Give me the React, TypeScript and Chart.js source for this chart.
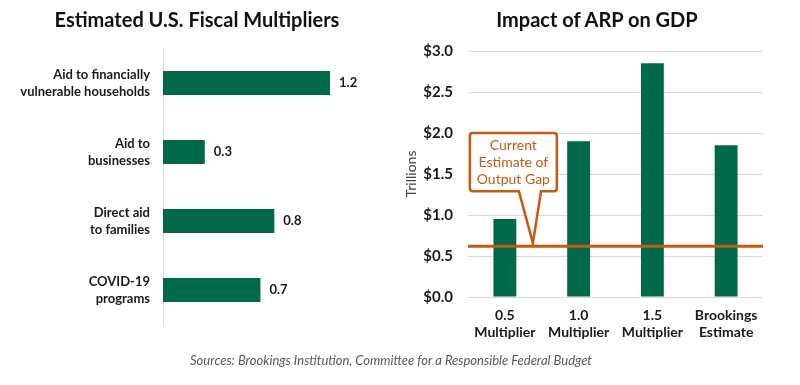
import React, { useEffect, useRef } from 'react';
import { Chart, registerables } from 'chart.js';

Chart.register(...registerables);

const programCategories = [
  ['Aid to financially', 'vulnerable households'],
  ['Aid to', 'businesses'],
  ['Direct aid', 'to families'],
  ['COVID-19', 'programs'],
];
const multiplierValues = [1.2, 0.3, 0.8, 0.7];

const scenarioCategories = [
  ['0.5', 'Multiplier'],
  ['1.0', 'Multiplier'],
  ['1.5', 'Multiplier'],
  ['Brookings', 'Estimate'],
];
const gdpImpactValues = [0.95, 1.9, 2.85, 1.85];
const outputGap = 0.62;
const calloutLines = ['Current', 'Estimate of', 'Output Gap'];

const FONT = 'Lato';
const GREEN = '#00694A';
const ORANGE = '#C55A11';
const TEXT = '#1a1a1a';

export default function App() {
  const leftRef = useRef<HTMLCanvasElement>(null);
  const rightRef = useRef<HTMLCanvasElement>(null);

  useEffect(() => {
    const valueLabels = {
      id: 'valueLabels',
      afterDatasetsDraw(chart: any) {
        const ctx = chart.ctx;
        const meta = chart.getDatasetMeta(0);
        ctx.save();
        ctx.font = `bold 13px ${FONT}`;
        ctx.fillStyle = TEXT;
        ctx.textAlign = 'left';
        ctx.textBaseline = 'middle';
        meta.data.forEach((bar: any, i: number) => {
          ctx.fillText(multiplierValues[i].toFixed(1), bar.x + 9, bar.y);
        });
        ctx.restore();
      },
    };

    const left = new Chart(leftRef.current!, {
      type: 'bar',
      data: {
        labels: programCategories as any,
        datasets: [
          {
            data: multiplierValues,
            backgroundColor: GREEN,
            barPercentage: 0.35,
            categoryPercentage: 1,
          },
        ],
      },
      options: {
        indexAxis: 'y',
        animation: false,
        responsive: false,
        layout: { padding: { top: 48.5, bottom: 60.5, right: 28.25, left: 0 } },
        plugins: { legend: { display: false }, tooltip: { enabled: false } },
        scales: {
          x: { display: false, min: 0, max: 1.5 },
          y: {
            grid: { display: false, drawTicks: false },
            border: { display: true, color: '#d9d9d9' },
            ticks: {
              padding: 13,
              color: TEXT,
              font: { family: FONT, size: 13, weight: 'bold', lineHeight: 1.28 },
            },
            afterFit(scale: any) {
              scale.width = 163;
            },
          },
        },
      },
      plugins: [valueLabels],
    });

    const gapAndCallout = {
      id: 'gapAndCallout',
      afterDatasetsDraw(chart: any) {
        const ctx = chart.ctx;
        const xs = chart.scales.x;
        const ys = chart.scales.y;
        const area = chart.chartArea;
        const yGap = ys.getPixelForValue(outputGap);
        ctx.save();
        ctx.strokeStyle = ORANGE;
        ctx.lineWidth = 3;
        ctx.beginPath();
        ctx.moveTo(area.left, yGap);
        ctx.lineTo(area.right, yGap);
        ctx.stroke();

        const step = xs.getPixelForValue(1) - xs.getPixelForValue(0);
        const x0 = xs.getPixelForValue(0);
        const bl = x0 - 0.475 * step;
        const br = x0 + 0.705 * step;
        const bt = ys.getPixelForValue(2.0);
        const bb = ys.getPixelForValue(1.29);
        const pl = x0 + 0.19 * step;
        const pr = x0 + 0.49 * step;
        const tipX = x0 + 0.38 * step;
        const tipY = yGap - 3;
        const r = 3;
        ctx.beginPath();
        ctx.moveTo(bl + r, bt);
        ctx.lineTo(br - r, bt);
        ctx.quadraticCurveTo(br, bt, br, bt + r);
        ctx.lineTo(br, bb - r);
        ctx.quadraticCurveTo(br, bb, br - r, bb);
        ctx.lineTo(pr, bb);
        ctx.lineTo(tipX, tipY);
        ctx.lineTo(pl, bb);
        ctx.lineTo(bl + r, bb);
        ctx.quadraticCurveTo(bl, bb, bl, bb - r);
        ctx.lineTo(bl, bt + r);
        ctx.quadraticCurveTo(bl, bt, bl + r, bt);
        ctx.closePath();
        ctx.fillStyle = '#ffffff';
        ctx.fill();
        ctx.lineWidth = 2.5;
        ctx.lineJoin = 'miter';
        ctx.stroke();

        ctx.fillStyle = ORANGE;
        ctx.font = `14px ${FONT}`;
        ctx.textAlign = 'center';
        ctx.textBaseline = 'middle';
        const cx = (bl + br) / 2;
        const lh = 17;
        const cy = (bt + bb) / 2;
        calloutLines.forEach((t, i) => {
          ctx.fillText(t, cx, cy + (i - 1) * lh);
        });
        ctx.restore();
      },
    };

    const right = new Chart(rightRef.current!, {
      type: 'bar',
      data: {
        labels: scenarioCategories as any,
        datasets: [
          {
            data: gdpImpactValues,
            backgroundColor: GREEN,
            barPercentage: 0.31,
            categoryPercentage: 1,
          },
        ],
      },
      options: {
        animation: false,
        responsive: false,
        layout: { padding: { top: 51, bottom: 0, right: 37, left: 0 } },
        plugins: { legend: { display: false }, tooltip: { enabled: false } },
        scales: {
          x: {
            grid: { display: false, drawTicks: false },
            border: { display: false },
            ticks: {
              padding: 10,
              color: TEXT,
              font: { family: FONT, size: 14, weight: 'bold', lineHeight: 1.2 },
            },
            afterFit(scale: any) {
              scale.height = 88;
            },
          },
          y: {
            min: 0,
            max: 3,
            ticks: {
              stepSize: 0.5,
              padding: 15,
              color: TEXT,
              font: { family: FONT, size: 15, weight: 'bold' },
              callback: (v: any) => '$' + Number(v).toFixed(1),
            },
            grid: { color: '#d9d9d9', drawTicks: false },
            border: { display: false },
            title: {
              display: true,
              text: 'Trillions',
              color: '#404040',
              font: { family: FONT, size: 14 },
              padding: { top: 3, bottom: 0 },
            },
            afterFit(scale: any) {
              scale.width = 68;
            },
          },
        },
      },
      plugins: [gapAndCallout],
    });

    return () => {
      left.destroy();
      right.destroy();
    };
  }, []);

  const titleStyle: React.CSSProperties = {
    position: 'absolute',
    width: 394,
    top: 7,
    textAlign: 'center',
    fontWeight: 'bold',
    fontSize: 20,
    lineHeight: '24px',
    color: '#111',
  };

  return (
    <div
      style={{
        position: 'fixed',
        left: 0,
        top: 0,
        width: 800,
        height: 385,
        background: '#ffffff',
        fontFamily: FONT,
      }}
    >
      <canvas ref={leftRef} width={400} height={385} style={{ position: 'absolute', left: 0, top: 0 }} />
      <canvas ref={rightRef} width={400} height={385} style={{ position: 'absolute', left: 400, top: 0 }} />
      <div style={{ ...titleStyle, left: 0 }}>Estimated U.S. Fiscal Multipliers</div>
      <div style={{ ...titleStyle, left: 400 }}>Impact of ARP on GDP</div>
      <div
        style={{
          position: 'absolute',
          left: 0,
          width: 782,
          top: 352,
          textAlign: 'center',
          fontStyle: 'italic',
          fontSize: 13,
          lineHeight: '17px',
          color: '#595959',
        }}
      >
        Sources: Brookings Institution, Committee for a Responsible Federal Budget
      </div>
    </div>
  );
}
